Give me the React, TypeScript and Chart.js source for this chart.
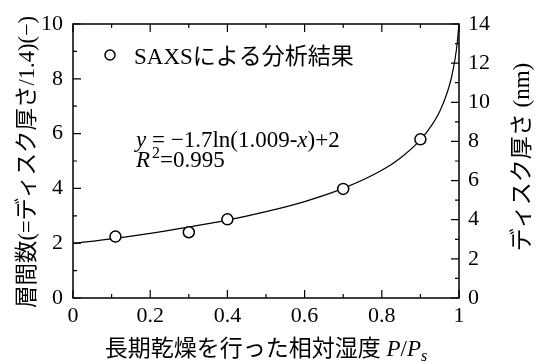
import React, { useEffect, useRef } from "react";
import { Chart, registerables } from "chart.js";

Chart.register(...registerables);

// ---- data ----
const xTicks = [0, 0.2, 0.4, 0.6, 0.8, 1];
const leftTicks = [0, 2, 4, 6, 8, 10];
const rightTicks = [0, 2, 4, 6, 8, 10, 12, 14];

const measuredX = [0.11, 0.3, 0.4, 0.7, 0.9];
const measuredLayers = [2.24, 2.4, 2.87, 3.98, 5.79];

const fitX = [0, 0.1, 0.2, 0.3, 0.4, 0.5, 0.6, 0.7, 0.8, 0.85, 0.9, 0.93, 0.95, 0.97, 0.98, 0.99, 0.995, 1.0];
const fitLayers = [1.99, 2.16, 2.36, 2.59, 2.84, 3.15, 3.52, 4.0, 4.66, 5.13, 5.77, 6.32, 6.81, 7.52, 8.02, 8.74, 9.26, 10.0];

const legendLabel = "SAXSによる分析結果";
const xTitle = "長期乾燥を行った相対湿度 ";
const leftTitle = "層間数(=ディスク厚さ/1.4)(−)";
const rightTitle = "ディスク厚さ (nm)";

const FAM = '"Liberation Serif", "Noto Sans CJK JP", serif';

type Seg = { t: string; it?: boolean; sub?: boolean; sup?: boolean; dx?: number };

function drawRich(ctx: CanvasRenderingContext2D, segs: Seg[], x: number, y: number, size: number, align: "left" | "center") {
  const fontFor = (s: Seg) => `${s.it ? "italic " : ""}${s.sub || s.sup ? Math.round(size * 0.68) : size}px ${FAM}`;
  const widths = segs.map((s) => {
    ctx.font = fontFor(s);
    return ctx.measureText(s.t).width + (s.dx || 0);
  });
  const total = widths.reduce((a, b) => a + b, 0);
  let cx = align === "center" ? x - total / 2 : x;
  ctx.textBaseline = "alphabetic";
  ctx.textAlign = "left";
  segs.forEach((s, i) => {
    ctx.font = fontFor(s);
    const dy = s.sub ? size * 0.22 : s.sup ? -size * 0.38 : 0;
    ctx.fillText(s.t, cx + (s.dx || 0), y + dy);
    cx += widths[i];
  });
}

const decorPlugin = {
  id: "decor",
  afterDraw(chart: any) {
    const ctx: CanvasRenderingContext2D = chart.ctx;
    const { left, right, top, bottom } = chart.chartArea;
    const xs = chart.scales.x;
    const ys = chart.scales.y;
    const y2 = chart.scales.y2;
    ctx.save();
    ctx.strokeStyle = "#000";
    ctx.fillStyle = "#000";
    // frame
    ctx.lineWidth = 1.5;
    ctx.strokeRect(left, top, right - left, bottom - top);
    // ticks
    ctx.lineWidth = 1.2;
    const major = 8;
    const minor = 4;
    const withMinor = (arr: number[]) => {
      const out: { v: number; m: boolean }[] = [];
      arr.forEach((v, i) => {
        out.push({ v, m: true });
        if (i < arr.length - 1) out.push({ v: (v + arr[i + 1]) / 2, m: false });
      });
      return out;
    };
    ctx.beginPath();
    withMinor(xTicks).forEach(({ v, m }) => {
      const px = xs.getPixelForValue(v);
      const l = m ? major : minor;
      ctx.moveTo(px, bottom);
      ctx.lineTo(px, bottom - l);
      ctx.moveTo(px, top);
      ctx.lineTo(px, top + l);
    });
    withMinor(leftTicks).forEach(({ v, m }) => {
      const py = ys.getPixelForValue(v);
      const l = m ? major : minor;
      ctx.moveTo(left, py);
      ctx.lineTo(left + l, py);
    });
    withMinor(rightTicks).forEach(({ v, m }) => {
      const py = y2.getPixelForValue(v);
      const l = m ? major : minor;
      ctx.moveTo(right, py);
      ctx.lineTo(right - l, py);
    });
    ctx.stroke();

    // legend
    ctx.lineWidth = 1.5;
    ctx.fillStyle = "#fff";
    ctx.beginPath();
    ctx.arc(110, 55, 5, 0, Math.PI * 2);
    ctx.fill();
    ctx.stroke();
    ctx.fillStyle = "#000";
    drawRich(ctx, [{ t: legendLabel }], 134, 64, 23, "left");

    // equation
    drawRich(
      ctx,
      [{ t: "y", it: true }, { t: " = −1.7ln(1.009-" }, { t: "x", it: true }, { t: ")+2" }],
      136,
      147,
      23,
      "left"
    );
    drawRich(ctx, [{ t: "R", it: true }, { t: "2", sup: true, dx: 2 }, { t: "=0.995" }], 136, 167, 23, "left");

    // x title
    drawRich(ctx, [{ t: xTitle }, { t: "P", it: true }, { t: "/" }, { t: "P", it: true }, { t: "s", it: true, sub: true }], 266, 356, 23, "center");

    // left title
    ctx.save();
    ctx.translate(25, 162);
    ctx.rotate(-Math.PI / 2);
    drawRich(ctx, [{ t: leftTitle }], 0, 8.7, 22.5, "center");
    ctx.restore();

    // right title
    ctx.save();
    ctx.translate(520, 157);
    ctx.rotate(-Math.PI / 2);
    drawRich(ctx, [{ t: rightTitle }], 0, 8.7, 23, "center");
    ctx.restore();

    ctx.restore();
  },
};

export default function App() {
  const ref = useRef<HTMLCanvasElement | null>(null);
  useEffect(() => {
    if (!ref.current) return;
    Chart.defaults.color = "#000";
    const tickFont = { family: FAM, size: 22 };
    const chart = new Chart(ref.current, {
      type: "scatter",
      data: {
        datasets: [
          {
            label: "fit",
            data: fitX.map((x, i) => ({ x, y: fitLayers[i] })),
            showLine: true,
            borderColor: "#000",
            borderWidth: 1.2,
            pointRadius: 0,
            cubicInterpolationMode: "monotone",
            yAxisID: "y",
            order: 2,
          } as any,
          {
            label: legendLabel,
            data: measuredX.map((x, i) => ({ x, y: measuredLayers[i] })),
            showLine: false,
            pointRadius: 5.5,
            pointBorderWidth: 1.5,
            pointBackgroundColor: "#fff",
            pointBorderColor: "#000",
            yAxisID: "y",
            order: 1,
          } as any,
        ],
      },
      options: {
        responsive: false,
        animation: false,
        layout: { padding: { top: 24, left: 0, right: 0, bottom: 0 } },
        plugins: { legend: { display: false }, tooltip: { enabled: false } },
        scales: {
          x: {
            type: "linear",
            min: 0,
            max: 1,
            grid: { display: false, drawTicks: false },
            border: { display: false },
            afterBuildTicks: (s: any) => {
              s.ticks = xTicks.map((v) => ({ value: v }));
            },
            ticks: { font: tickFont, padding: 5, color: "#000", maxRotation: 0, callback: (v: any) => String(v) },
            afterFit: (s: any) => {
              s.height = 65;
            },
          },
          y: {
            type: "linear",
            position: "left",
            min: 0,
            max: 10,
            grid: { display: false, drawTicks: false },
            border: { display: false },
            afterBuildTicks: (s: any) => {
              s.ticks = leftTicks.map((v) => ({ value: v }));
            },
            ticks: { font: tickFont, padding: 10, color: "#000", callback: (v: any) => String(v) },
            afterFit: (s: any) => {
              s.width = 73;
            },
          },
          y2: {
            type: "linear",
            position: "right",
            min: 0,
            max: 14,
            grid: { display: false, drawTicks: false },
            border: { display: false },
            afterBuildTicks: (s: any) => {
              s.ticks = rightTicks.map((v) => ({ value: v }));
            },
            ticks: { font: tickFont, padding: 9, color: "#000", callback: (v: any) => String(v) },
            afterFit: (s: any) => {
              s.width = 80;
            },
          },
        },
      },
      plugins: [decorPlugin],
    });
    return () => chart.destroy();
  }, []);
  return (
    <div style={{ position: "absolute", left: 0, top: 0, width: 539, height: 363, background: "#fff" }}>
      <canvas ref={ref} width={539} height={363} style={{ width: 539, height: 363, display: "block" }} />
    </div>
  );
}
